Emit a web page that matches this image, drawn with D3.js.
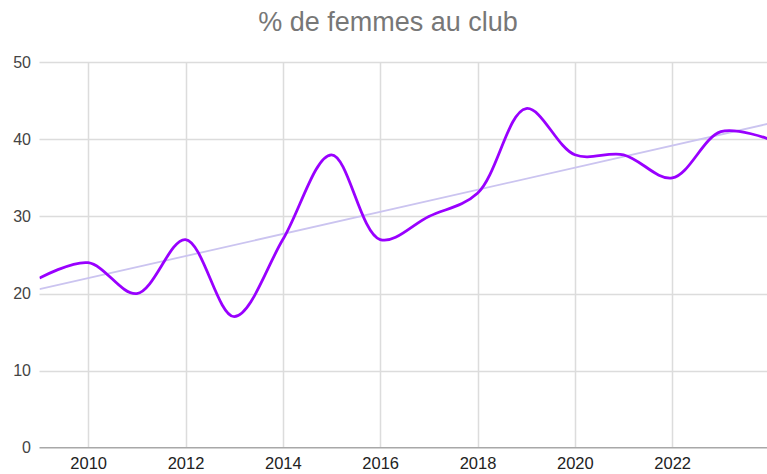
<!DOCTYPE html>
<html>
<head>
<meta charset="utf-8">
<script src="https://cdn.jsdelivr.net/npm/d3@7"></script>
<style>
  body { margin: 0; background: #fff; }
  svg { display: block; font-family: "Liberation Sans", Arial, sans-serif; }
</style>
</head>
<body>
<svg id="chart" width="767" height="474"></svg>
<script>
const title = '% de femmes au club';
const years = [2009, 2010, 2011, 2012, 2013, 2014, 2015, 2016, 2017, 2018, 2019, 2020, 2021, 2022, 2023, 2024];
const values = [22, 24, 20, 27, 17, 27, 38, 27, 30, 33, 44, 38, 38, 35, 41, 40];
const yTicks = [0, 10, 20, 30, 40, 50];
const xTicks = [2010, 2012, 2014, 2016, 2018, 2020, 2022];

const svg = d3.select('#chart');

let x = d3.scaleLinear()
	.domain([2009, 2024])
	.range([39.5, 769.5]);

let y = d3.scaleLinear()
	.domain([0, 50])
	.range([447.7, 62.3]);

// title
svg.append('text')
	.attr('x', 388)
	.attr('y', 31)
	.attr('text-anchor', 'middle')
	.style('font-size', '27px')
	.style('fill', '#777')
	.text(title);

// horizontal gridlines
svg.append('g')
	.selectAll('line')
	.data(yTicks.filter(d => d > 0))
	.enter()
	.append('line')
		.attr('x1', x(2009))
		.attr('x2', 767)
		.attr('y1', d => Math.round(y(d)) + 0.5)
		.attr('y2', d => Math.round(y(d)) + 0.5)
		.attr('stroke', '#dcdcdc')
		.attr('stroke-width', 1.5);

// vertical gridlines
svg.append('g')
	.selectAll('line')
	.data(xTicks)
	.enter()
	.append('line')
		.attr('x1', d => Math.round(x(d)) + 0.5)
		.attr('x2', d => Math.round(x(d)) + 0.5)
		.attr('y1', y(50))
		.attr('y2', y(0))
		.attr('stroke', '#dcdcdc')
		.attr('stroke-width', 1.5);

// baseline
svg.append('line')
	.attr('x1', x(2009))
	.attr('x2', 767)
	.attr('y1', y(0))
	.attr('y2', y(0))
	.attr('stroke', '#a8a8a8')
	.attr('stroke-width', 1.5);

// axes (labels only)
let yAxis = svg.append('g')
	.attr('transform', `translate(${x(2009)},0)`)
	.call(d3.axisLeft(y).tickValues(yTicks).tickSize(0).tickPadding(8.5));

let xAxis = svg.append('g')
	.attr('transform', `translate(0,${y(0)})`)
	.call(d3.axisBottom(x).tickValues(xTicks).tickFormat(d3.format('d')).tickSize(0).tickPadding(10));

svg.selectAll('.domain').remove();
yAxis.selectAll('text').style('font-size', '16px').style('fill', '#444').attr('font-family', null);
xAxis.selectAll('text').style('font-size', '16.5px').style('fill', '#222').attr('font-family', null);

// clip to plot area
svg.append('clipPath')
	.attr('id', 'plot')
	.append('rect')
		.attr('x', x(2009))
		.attr('y', 0)
		.attr('width', x(2024) - x(2009))
		.attr('height', y(0));

const data = years.map((d, i) => ({ year: d, value: values[i] }));

// linear trendline (least squares)
let mx = d3.mean(years);
let my = d3.mean(values);
let slope = d3.sum(data, d => (d.year - mx) * (d.value - my)) / d3.sum(years, d => (d - mx) * (d - mx));
let trend = [years[0], years[years.length - 1]].map(d => ({ year: d, value: my + slope * (d - mx) }));

svg.append('path')
	.datum(trend)
	.attr('clip-path', 'url(#plot)')
	.attr('fill', 'none')
	.attr('stroke', '#cbc4f0')
	.attr('stroke-width', 1.8)
	.attr('d', d3.line().x(d => x(d.year)).y(d => y(d.value)));

// smoothed series
svg.append('path')
	.datum(data)
	.attr('clip-path', 'url(#plot)')
	.attr('fill', 'none')
	.attr('stroke', '#9900ff')
	.attr('stroke-width', 2.8)
	.attr('stroke-linejoin', 'round')
	.attr('d', d3.line()
		.curve(d3.curveCatmullRom.alpha(0.5))
		.x(d => x(d.year))
		.y(d => y(d.value)));
</script>
</body>
</html>
